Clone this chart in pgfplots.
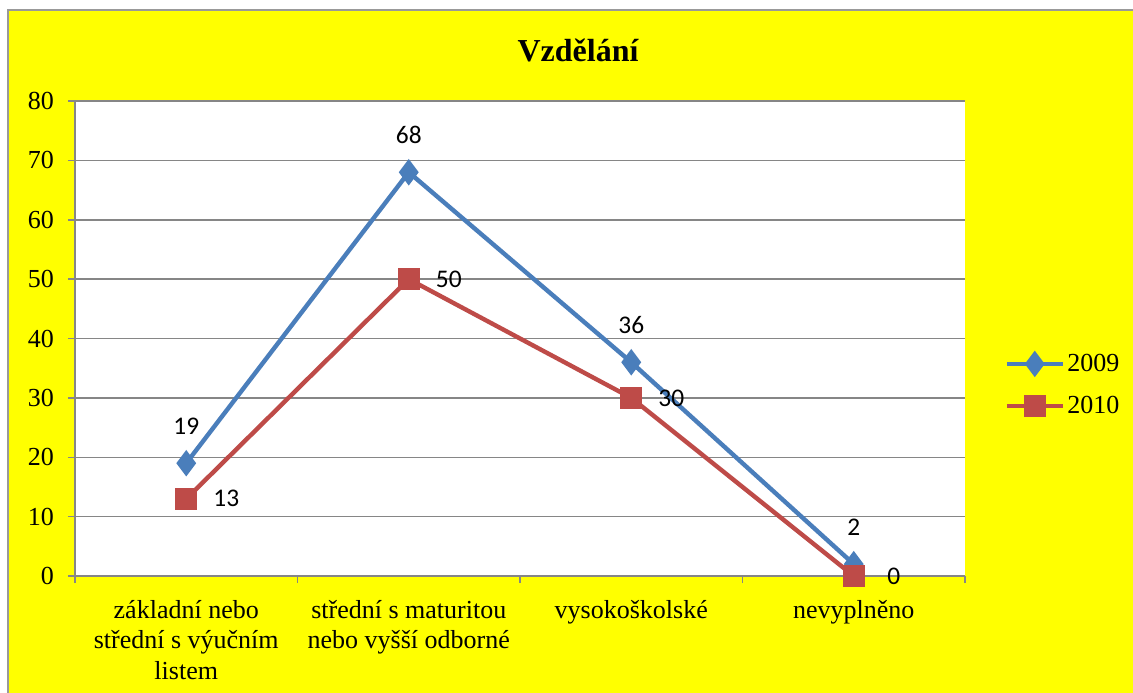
\documentclass[border=0pt]{standalone}
\usepackage{fontspec}
\setmainfont{Liberation Serif}
\newfontfamily\calibri{Carlito}
\usepackage{pgfplots}
\pgfplotsset{compat=1.18}
\definecolor{s09}{HTML}{4A7EBB}
\definecolor{s10}{HTML}{BE4B48}
\definecolor{gridgray}{HTML}{868686}
\definecolor{bgyellow}{HTML}{FFFF00}

\begin{document}
\begin{tikzpicture}
% page: 1133 x 692 px, 1 px = 0.5 pt
\useasboundingbox (0pt,0pt) rectangle (566.5pt,346pt);
\fill[white] (0pt,0pt) rectangle (566.5pt,346pt);
\filldraw[fill=bgyellow, draw=gray!80, line width=1pt] (4pt,-5pt) rectangle (575pt,341pt);
\node[font=\rmfamily\fontsize{16}{19}\selectfont\bfseries] at (289pt,321pt) {Vzdělání};
\begin{axis}[
    at={(37.5pt,58pt)}, anchor=south west,
    scale only axis,
    width=445pt, height=237.5pt,
    xmin=-0.5, xmax=3.5,
    ymin=0, ymax=80,
    ytick={0,10,...,80},
    xtick={-0.5,0.5,1.5,2.5,3.5},
    xticklabels={},
    extra x ticks={0,1,2,3},
    extra x tick labels={základní nebo\\střední s výučním\\listem,
        střední s maturitou\\nebo vyšší odborné,
        vysokoškolské, nevyplněno},
    extra x tick style={major tick length=0pt, grid=none,
        xticklabel style={align=center, anchor=north, yshift=-8.5pt,
            font=\rmfamily\fontsize{13}{15.4}\selectfont}},
    axis x line*=bottom, axis y line*=left,
    axis line style={gridgray, line width=0.75pt},
    ymajorgrids,
    grid style={gridgray, line width=0.75pt},
    tick style={gridgray, line width=0.75pt},
    tick align=outside, major tick length=3.5pt,
    axis background/.style={fill=white},
    tick label style={font=\rmfamily\fontsize{13}{15}\selectfont, black},
    yticklabel style={xshift=-3.5pt},
    /pgf/number format/assume math mode=true,
    clip=false,
    legend style={at={(1.044,0.402)}, anchor=west, draw=none, fill=none,
        font=\rmfamily\fontsize{13}{15}\selectfont, row sep=7pt, inner sep=0pt,
        nodes={inner xsep=1.2pt}},
    legend cell align=left,
    legend image code/.code={\draw[mark repeat=2,mark phase=2,#1]
        plot coordinates {(0pt,0pt) (14pt,0pt) (28pt,0pt)};},
]
\addplot[s09, line width=2.2pt, mark=diamond*, mark size=4.8pt,
    mark options={solid, fill=s09},
    nodes near coords,
    nodes near coords style={font=\calibri\fontsize{12.7}{14}\selectfont, black,
        anchor=center, yshift=18.5pt}]
    coordinates {(0,19) (1,68) (2,36) (3,2)};
\addplot[s10, line width=2.2pt, mark=square*, mark size=4.5pt,
    mark options={solid, fill=s10},
    nodes near coords,
    nodes near coords style={font=\calibri\fontsize{12.7}{14}\selectfont, black,
        anchor=center, xshift=20pt}]
    coordinates {(0,13) (1,50) (2,30) (3,0)};
\legend{2009, 2010}
\end{axis}
\end{tikzpicture}
\end{document}
